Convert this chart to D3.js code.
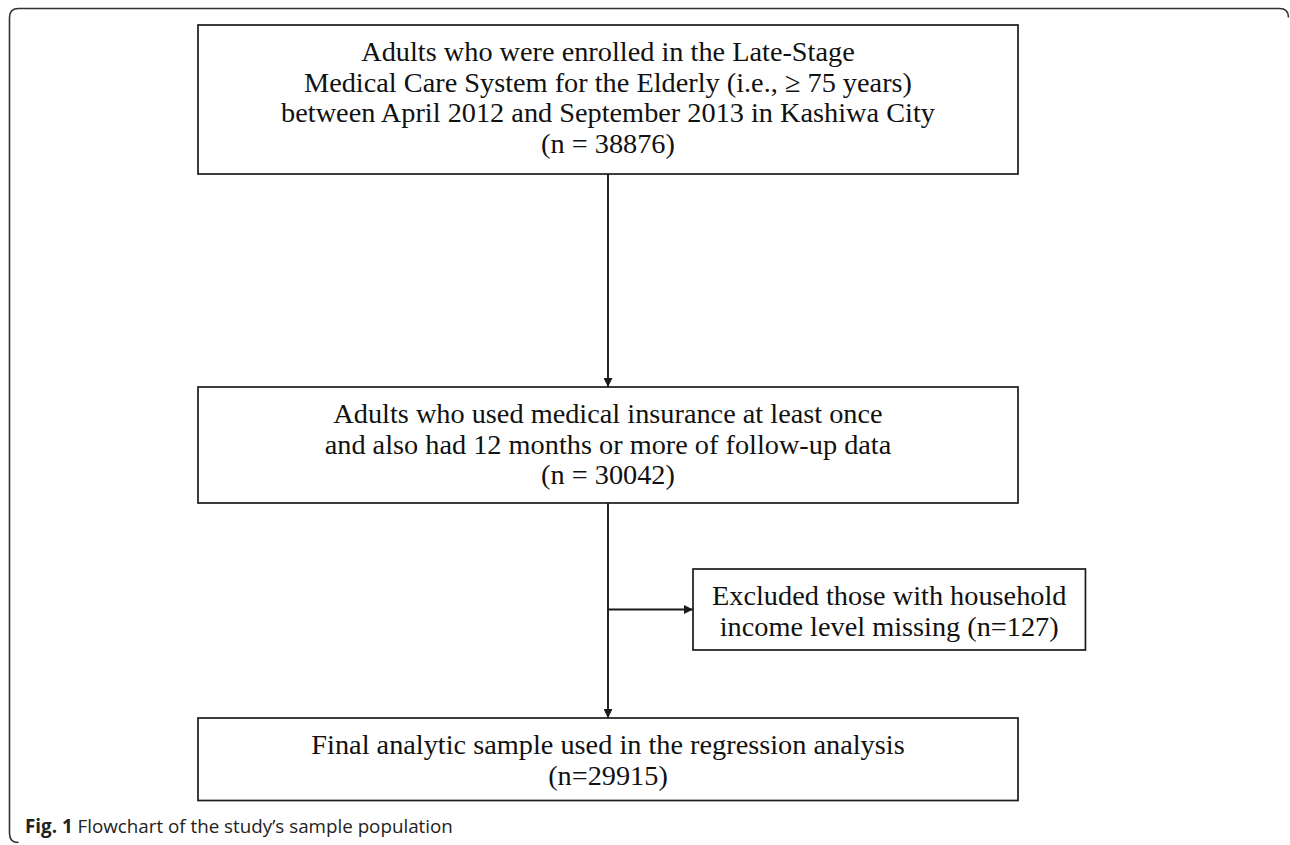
<!DOCTYPE html>
<html><head><meta charset="utf-8">
<script src="https://cdn.jsdelivr.net/npm/d3@7"></script>
<style>html,body{margin:0;padding:0;background:#fff;}svg{display:block;}</style>
</head><body>
<script>
// ---- data ----
const stageLabels = [
  ["Adults who were enrolled in the Late-Stage",
   "Medical Care System for the Elderly (i.e., \u2265 75 years)",
   "between April 2012 and September 2013 in Kashiwa City"],
  ["Adults who used medical insurance at least once",
   "and also had 12 months or more of follow-up data"],
  ["Final analytic sample used in the regression analysis"]
];
const stageCounts = ["(n = 38876)", "(n = 30042)", "(n=29915)"];
const exclusionLines = ["Excluded those with household", "income level missing (n=127)"];
const captionBold = "Fig. 1";
const captionText = " Flowchart of the study\u2019s sample population";

// ---- layout ----
const W = 1290, H = 845;
const cx = 608;
const boxLeft = 198;
const stageTops = [25, 387, 718];
const stageBottoms = [174, 503, 800.5];
const exclTop = 569, exclBottom = 650, exclLeft = 693, exclPad = 19;
const fontSize = 28.3, lineH = 30.7, firstBase = 36;
const ink = "#1b1b1b";

const svg = d3.select("body").append("svg").attr("width", W).attr("height", H);
const defs = svg.append("defs");
defs.append("marker").attr("id", "ah").attr("viewBox", "0 0 10 10")
  .attr("refX", 10).attr("refY", 5).attr("markerWidth", 10).attr("markerHeight", 9)
  .attr("markerUnits", "userSpaceOnUse").attr("orient", "auto")
  .append("path").attr("d", "M0,0 L10,5 L0,10 Z").attr("fill", ink);

// outer frame (rounded, right side runs off the edge)
const fr = 9, fl = 9.5, ft = 8.5, fb = 842.5, frt = 1288.5;
svg.append("path")
  .attr("d", `M${frt},${ft + fr} Q${frt},${ft} ${frt - fr},${ft} L${fl + fr},${ft} Q${fl},${ft} ${fl},${ft + fr} L${fl},${fb - fr} Q${fl},${fb} ${fl + fr},${fb}`)
  .attr("fill", "none").attr("stroke", "#333").attr("stroke-width", 1.6);

const stages = stageLabels.map((lines, i) => ({
  lines: lines.concat([stageCounts[i]]), top: stageTops[i], bottom: stageBottoms[i]
}));

const gBox = svg.append("g").attr("fill", "none").attr("stroke", ink).attr("stroke-width", 1.7);
const gText = svg.append("g").attr("font-family", "'Liberation Serif','Times New Roman',serif")
  .attr("font-size", fontSize).attr("fill", "#111");

const boxW = 2 * (cx - boxLeft);
stages.forEach(s => {
  gBox.append("rect").attr("x", cx - boxW / 2).attr("y", s.top).attr("width", boxW).attr("height", s.bottom - s.top);
  gText.selectAll(null).data(s.lines).enter().append("text")
    .attr("x", cx).attr("text-anchor", "middle")
    .attr("y", (d, j) => s.top + firstBase + j * lineH)
    .text(d => d);
});

// exclusion box
const ex = gText.selectAll(null).data(exclusionLines).enter().append("text")
  .attr("x", 0).attr("text-anchor", "middle")
  .attr("y", (d, j) => exclTop + firstBase + j * lineH).text(d => d);
let exW = 0;
ex.each(function () { exW = Math.max(exW, this.getComputedTextLength()); });
const exBoxW = exW + 2 * exclPad;
ex.attr("x", exclLeft + exBoxW / 2);
gBox.append("rect").attr("x", exclLeft).attr("y", exclTop).attr("width", exBoxW).attr("height", exclBottom - exclTop);

// connectors
const gLine = svg.append("g").attr("stroke", ink).attr("stroke-width", 1.9).attr("fill", "none");
for (let i = 0; i < stages.length - 1; i++) {
  gLine.append("line").attr("x1", cx).attr("x2", cx)
    .attr("y1", stages[i].bottom).attr("y2", stages[i + 1].top)
    .attr("marker-end", "url(#ah)");
}
const branchY = (exclTop + exclBottom) / 2;
gLine.append("line").attr("x1", cx).attr("x2", exclLeft).attr("y1", branchY).attr("y2", branchY)
  .attr("marker-end", "url(#ah)");

// caption
const cap = svg.append("text").attr("x", 25).attr("y", 833)
  .attr("font-family", "'Open Sans','Noto Sans',sans-serif").attr("font-size", 18.8).attr("fill", "#222");
cap.append("tspan").attr("font-weight", "bold").text(captionBold);
cap.append("tspan").text(captionText);
</script>
</body></html>
